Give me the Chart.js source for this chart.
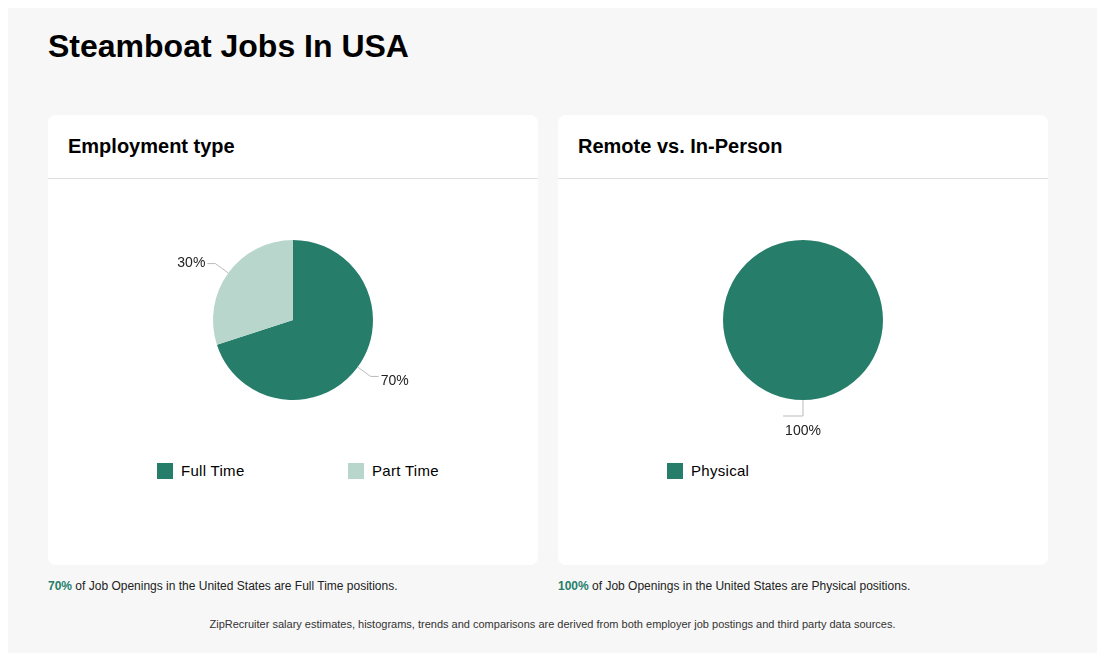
<!DOCTYPE html>
<html><head><meta charset="utf-8">
<script src="https://cdn.jsdelivr.net/npm/chart.js@4"></script>
<style>
body{margin:0;background:#fff;font-family:"Liberation Sans",Arial,sans-serif;}
#wrap{position:absolute;left:8px;top:8px;width:1089px;height:645px;background:#f7f7f7;}
h1{position:absolute;left:40px;top:20px;margin:0;font-size:32px;font-weight:bold;color:#000;}
.card{position:absolute;top:107px;width:490px;height:450px;background:#fff;border-radius:8px;}
.card h2{margin:0;position:absolute;left:20px;top:20px;font-size:20px;font-weight:bold;}
.card .hr{position:absolute;left:0;right:0;top:63px;border-top:1px solid #e0e0e0;}
.card canvas{position:absolute;left:0;top:64px;}
.legend{position:absolute;top:347px;left:0;width:490px;font-size:15px;letter-spacing:0.3px;}
.legend span{position:absolute;display:flex;align-items:center;}
.legend i{display:inline-block;width:16px;height:16px;margin-right:8px;}
.note{position:absolute;top:571px;font-size:12px;color:#222;}
.note b{color:#267e6a;}
.foot{position:absolute;top:610px;left:0;width:1089px;text-align:center;font-size:11px;color:#333;}
</style></head><body>
<div id="wrap">
<h1>Steamboat Jobs In USA</h1>
<div class="card" style="left:40px"><h2>Employment type</h2><div class="hr"></div><canvas id="c1"></canvas><div class="legend" id="l1"></div></div>
<div class="card" style="left:550px"><h2>Remote vs. In-Person</h2><div class="hr"></div><canvas id="c2"></canvas><div class="legend" id="l2"></div></div>
<div class="note" style="left:40px"><b>70%</b> of Job Openings in the United States are Full Time positions.</div>
<div class="note" style="left:550px"><b>100%</b> of Job Openings in the United States are Physical positions.</div>
<div class="foot">ZipRecruiter salary estimates, histograms, trends and comparisons are derived from both employer job postings and third party data sources.</div>
</div>
<script>
const empLabels=["Full Time","Part Time"];
const empValues=[70,30];
const remoteLabels=["Physical"];
const remoteValues=[100];
const colors=["#267e6a","#b9d6cd"];

const labelPlugin={id:'outl',afterDatasetsDraw(ch){
  const ctx=ch.ctx;const meta=ch.getDatasetMeta(0);const data=ch.data.datasets[0].data;
  const tot=data.reduce((a,b)=>a+b,0);
  meta.data.forEach((arc,i)=>{
    const a=(arc.startAngle+arc.endAngle)/2;const r=arc.outerRadius;
    const x0=arc.x+Math.cos(a)*r,y0=arc.y+Math.sin(a)*r;
    const x1=arc.x+Math.cos(a)*(r+16),y1=arc.y+Math.sin(a)*(r+16);
    const right=Math.cos(a)>=0.01,down=Math.abs(Math.cos(a))<0.01;
    const x2=down?x1-20:(right?x1+8:x1-8);
    ctx.save();ctx.strokeStyle='#bbb';ctx.lineWidth=1;ctx.beginPath();
    ctx.moveTo(x0,y0);ctx.lineTo(x1,y1);ctx.lineTo(x2,y1);ctx.stroke();
    ctx.fillStyle='#222';ctx.font='14px "Liberation Sans",Arial';ctx.textBaseline='middle';
    const t=Math.round(data[i]/tot*100)+'%';
    if(down){ctx.textAlign='center';ctx.fillText(t,x1,y1+15);}
    else{ctx.textAlign=right?'left':'right';ctx.fillText(t,x2+(right?2:-2),y1+(right?5:0));}
    ctx.restore();
  });
}};
function make(id,lid,labels,values,pos){
  const c=document.getElementById(id);c.width=490;c.height=280;
  new Chart(c,{type:'pie',data:{labels,datasets:[{data:values,backgroundColor:colors,borderWidth:0}]},
    options:{responsive:false,animation:false,layout:{padding:{top:61,bottom:59}},
      plugins:{legend:{display:false},tooltip:{enabled:false}}},plugins:[labelPlugin]});
  const l=document.getElementById(lid);
  labels.forEach((t,i)=>{const s=document.createElement('span');s.style.left=pos[i]+'px';
    s.innerHTML='<i style="background:'+colors[i]+'"></i>'+t;l.appendChild(s);});
}
make('c1','l1',empLabels,empValues,[109,300]);
make('c2','l2',remoteLabels,remoteValues,[109]);
</script>
</body></html>
